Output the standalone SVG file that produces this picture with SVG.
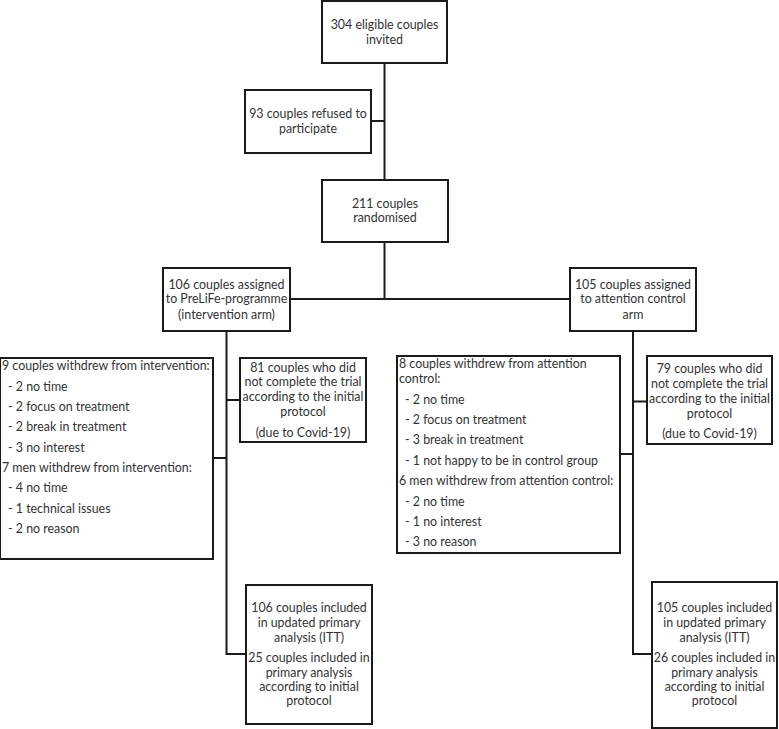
<svg xmlns="http://www.w3.org/2000/svg" width="779" height="729" viewBox="0 0 779 729">
<style>
rect{fill:#fff;stroke:#1a1a1a;stroke-width:2}
.c path{fill:none;stroke:#1a1a1a;stroke-width:2}
text{font-family:Lato,"Liberation Sans",sans-serif;font-size:12.4px;fill:#333}
.m{text-anchor:middle}
</style>
<rect x="0" y="0" width="779" height="729" style="stroke:none"/>
<g class="c">
<path d="M384.5 63V180M371 121H384.5M384.5 242V299M290 299H570M226.5 331V654H246M213 458H226.5M226.5 400H240M633 331V654H652M620 454H633M633 401.5H647"/>
</g>
<g id="n1"><rect x="322" y="1" width="125" height="62"/><text class="m" x="384.5"><tspan x="384.5" y="28.5">304 eligible couples</tspan><tspan x="384.5" y="43.5">invited</tspan></text></g>
<g id="n2"><rect x="245" y="90" width="126" height="63"/><text class="m"><tspan x="308" y="118">93 couples refused to</tspan><tspan x="308" y="133">participate</tspan></text></g>
<g id="n3"><rect x="322" y="180" width="126" height="62"/><text class="m"><tspan x="385" y="208">211 couples</tspan><tspan x="385" y="222">randomised</tspan></text></g>
<g id="n4"><rect x="163" y="268" width="127" height="63"/><text class="m"><tspan x="226.5" y="288.5">106 couples assigned</tspan><tspan x="226.5" y="303">to PreLiFe-programme</tspan><tspan x="226.5" y="318.5">(intervention arm)</tspan></text></g>
<g id="n5"><rect x="570" y="268" width="126" height="63"/><text class="m"><tspan x="633" y="288.5">105 couples assigned</tspan><tspan x="633" y="303">to attention control</tspan><tspan x="633" y="318.5">arm</tspan></text></g>
<g id="n6"><rect x="0" y="358" width="213" height="201"/><text><tspan x="2" y="370">9 couples withdrew from intervention:</tspan><tspan x="8" y="390.5">- 2 no time</tspan><tspan x="8" y="411">- 2 focus on treatment</tspan><tspan x="8" y="431">- 2 break in treatment</tspan><tspan x="8" y="451.5">- 3 no interest</tspan><tspan x="2" y="472">7 men withdrew from intervention:</tspan><tspan x="8" y="492">- 4 no time</tspan><tspan x="8" y="512.5">- 1 technical issues</tspan><tspan x="8" y="533">- 2 no reason</tspan></text></g>
<g id="n7"><rect x="240" y="358" width="126" height="84"/><text class="m"><tspan x="303" y="371.5">81 couples who did</tspan><tspan x="303" y="386">not complete the trial</tspan><tspan x="303" y="401">according to the initial</tspan><tspan x="303" y="416">protocol</tspan><tspan x="303" y="436.5">(due to Covid-19)</tspan></text></g>
<g id="n8"><rect x="397" y="356" width="223" height="197"/><text><tspan x="399" y="368">8 couples withdrew from attention</tspan><tspan x="399" y="383">control:</tspan><tspan x="405" y="403.5">- 2 no time</tspan><tspan x="405" y="423.5">- 2 focus on treatment</tspan><tspan x="405" y="443.5">- 3 break in treatment</tspan><tspan x="405" y="464.5">- 1 not happy to be in control group</tspan><tspan x="399" y="485">6 men withdrew from attention control:</tspan><tspan x="405" y="505.5">- 2 no time</tspan><tspan x="405" y="526">- 1 no interest</tspan><tspan x="405" y="546">- 3 no reason</tspan></text></g>
<g id="n9"><rect x="647" y="356" width="125" height="88"/><text class="m"><tspan x="709.5" y="372.5">79 couples who did</tspan><tspan x="709.5" y="388">not complete the trial</tspan><tspan x="709.5" y="402.5">according to the initial</tspan><tspan x="709.5" y="417.5">protocol</tspan><tspan x="709.5" y="438">(due to Covid-19)</tspan></text></g>
<g id="n10"><rect x="246" y="585" width="126" height="139"/><text class="m"><tspan x="309" y="611.5">106 couples included</tspan><tspan x="309" y="626.5">in  updated primary</tspan><tspan x="309" y="641.5">analysis (ITT)</tspan><tspan x="309" y="662">25 couples included in</tspan><tspan x="309" y="676.5">primary analysis</tspan><tspan x="309" y="691">according to initial</tspan><tspan x="309" y="705">protocol</tspan></text></g>
<g id="n11"><rect x="652" y="582" width="125" height="146"/><text class="m"><tspan x="714.5" y="611.5">105 couples included</tspan><tspan x="714.5" y="626.5">in updated primary</tspan><tspan x="714.5" y="641.5">analysis (ITT)</tspan><tspan x="714.5" y="662">26 couples included in</tspan><tspan x="714.5" y="676.5">primary  analysis</tspan><tspan x="714.5" y="691">according to initial</tspan><tspan x="714.5" y="705">protocol</tspan></text></g>
</svg>
